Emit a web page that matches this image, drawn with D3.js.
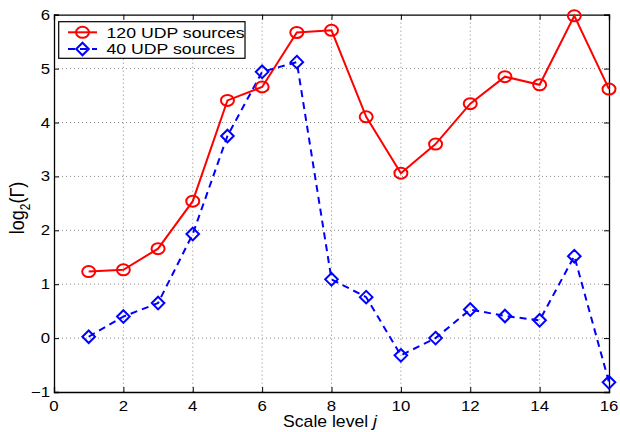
<!DOCTYPE html>
<html><head><meta charset="utf-8">
<script src="https://cdn.jsdelivr.net/npm/d3@7"></script>
<style>body{margin:0;background:#fff}svg{display:block}text{font-family:"Liberation Sans",Arial,Helvetica,sans-serif;fill:#000}</style>
</head><body>
<svg id="c" width="620" height="432"></svg>
<script>
const scaleLevels = [1,2,3,4,5,6,7,8,9,10,11,12,13,14,15,16];
const udp120 = [1.235,1.266,1.66,2.54,4.41,4.66,5.67,5.71,4.105,3.06,3.6,4.35,4.85,4.70,5.98,4.62];
const udp40 = [0.025,0.40,0.65,1.93,3.75,4.94,5.12,1.09,0.76,-0.32,0.0,0.53,0.41,0.33,1.52,-0.82];
const xTicks = [0,2,4,6,8,10,12,14,16];
const yTicks = [-1,0,1,2,3,4,5,6];
const seriesNames = ["120 UDP sources","40 UDP sources"];

const svg = d3.select("#c");
const L=54, R=609, T=14.7, B=392;
const x = d3.scaleLinear().domain([0,16]).range([L,R]);
const y = d3.scaleLinear().domain([-1,6]).range([B,T]);
const SX = 1.2;

// grid
const g = svg.append("g");
g.selectAll(".gx").data(xTicks.filter(d=>d>0&&d<16)).enter().append("line")
 .attr("x1",d=>x(d)).attr("x2",d=>x(d)).attr("y1",T).attr("y2",B)
 .attr("stroke","#8a8a8a").attr("stroke-width",1).attr("stroke-dasharray","1,3");
g.selectAll(".gy").data(yTicks.filter(d=>d>-1&&d<6)).enter().append("line")
 .attr("x1",L).attr("x2",R).attr("y1",d=>y(d)).attr("y2",d=>y(d))
 .attr("stroke","#8a8a8a").attr("stroke-width",1).attr("stroke-dasharray","1,3");

// axes with inside ticks
const ax = svg.append("g");
ax.append("g").attr("transform",`translate(0,${B})`).call(d3.axisBottom(x).tickValues(xTicks).tickSize(-5).tickFormat(""));
ax.append("g").attr("transform",`translate(0,${T})`).call(d3.axisTop(x).tickValues(xTicks).tickSize(-5).tickFormat(""));
ax.append("g").attr("transform",`translate(${L},0)`).call(d3.axisLeft(y).tickValues(yTicks).tickSize(-5).tickFormat(""));
ax.append("g").attr("transform",`translate(${R},0)`).call(d3.axisRight(y).tickValues(yTicks).tickSize(-5).tickFormat(""));
ax.selectAll(".domain").attr("stroke","#000").attr("stroke-width",1.3);
ax.selectAll(".tick line").attr("stroke","#000");

// tick labels
svg.selectAll(".xl").data(xTicks).enter().append("text")
 .attr("transform",d=>`translate(${x(d)},${411}) scale(${SX},1)`)
 .attr("text-anchor","middle").attr("font-size",14).text(d=>d);
svg.selectAll(".yl").data(yTicks).enter().append("text")
 .attr("transform",d=>`translate(${L-4},${y(d)+5}) scale(${SX},1)`)
 .attr("text-anchor","end").attr("font-size",14).text(d=>d<0?"\u2212"+Math.abs(d):d);

// axis labels
const xl = svg.append("text").attr("transform",`translate(330,427) scale(1.1,1)`).attr("text-anchor","middle").attr("font-size",16);
xl.append("tspan").text("Scale level ");
xl.append("tspan").attr("font-style","italic").text("j");
const yl = svg.append("text").attr("transform",`translate(24,208) rotate(-90) scale(1,1.15)`).attr("text-anchor","middle").attr("font-size",18);
yl.append("tspan").text("log");
yl.append("tspan").attr("font-size",12).attr("dy",5).text("2");
yl.append("tspan").attr("dy",-5).text("(\u0393)");

// series
const line = d3.line().x((d,i)=>x(scaleLevels[i])).y(d=>y(d));
const red="#ff0000", blue="#0000ff";
svg.append("path").datum(udp120).attr("d",line).attr("fill","none").attr("stroke",red).attr("stroke-width",2);
svg.append("path").datum(udp40).attr("d",line).attr("fill","none").attr("stroke",blue).attr("stroke-width",2).attr("stroke-dasharray","7,5");
svg.selectAll(".c").data(udp120).enter().append("ellipse")
 .attr("cx",(d,i)=>x(scaleLevels[i])).attr("cy",d=>y(d)).attr("rx",6.5).attr("ry",5.5)
 .attr("fill","none").attr("stroke",red).attr("stroke-width",2);
const dia = (cx,cy,s)=>`M${cx},${cy-s}L${cx+s},${cy}L${cx},${cy+s}L${cx-s},${cy}Z`;
svg.selectAll(".d").data(udp40).enter().append("path")
 .attr("d",(d,i)=>dia(x(scaleLevels[i]),y(d),6.3))
 .attr("fill","none").attr("stroke",blue).attr("stroke-width",2);

// legend
const lg = svg.append("g");
lg.append("rect").attr("x",58.7).attr("y",21.7).attr("width",186.3).attr("height",36.6).attr("fill","#fff").attr("stroke","#000").attr("stroke-width",1.2);
const rows=[{c:red,dash:null,m:"c",yy:32.3},{c:blue,dash:"7,5",m:"d",yy:49}];
rows.forEach((r,i)=>{
  lg.append("line").attr("x1",68).attr("x2",97).attr("y1",r.yy).attr("y2",r.yy).attr("stroke",r.c).attr("stroke-width",2).attr("stroke-dasharray",r.dash);
  if(r.m==="c") lg.append("ellipse").attr("cx",82.5).attr("cy",r.yy).attr("rx",6.5).attr("ry",5.5).attr("fill","none").attr("stroke",r.c).attr("stroke-width",2);
  else lg.append("path").attr("d",dia(82.5,r.yy,6.3)).attr("fill","none").attr("stroke",r.c).attr("stroke-width",2);
  lg.append("text").attr("transform",`translate(106.5,${r.yy+5.2}) scale(1.22,1)`).attr("font-size",14.5).text(seriesNames[i]);
});
</script>
</body></html>
